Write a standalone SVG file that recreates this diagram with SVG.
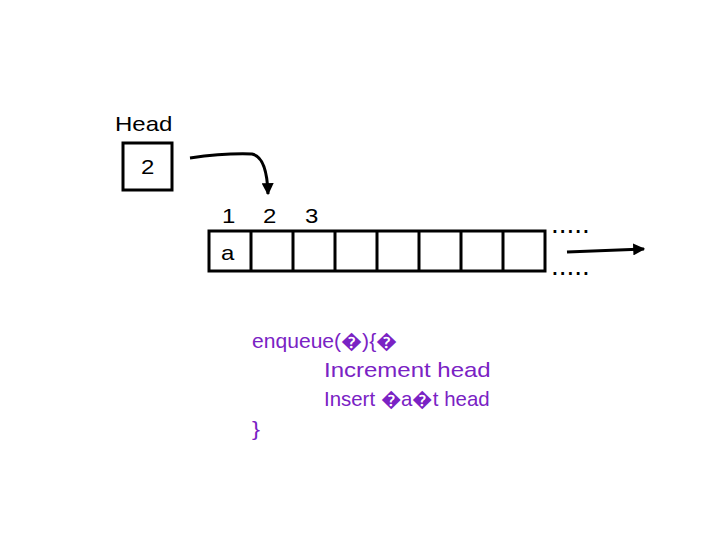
<svg xmlns="http://www.w3.org/2000/svg" width="720" height="540" viewBox="0 0 720 540">
<style>
text{font-family:"Liberation Sans",Arial,sans-serif;font-size:20px;fill:#000}
.code{fill:#7a22c4}
.box{fill:none;stroke:#000;stroke-width:3}
.dots{font-size:28px}
</style>
<defs>
<marker id="ah" viewBox="0 0 10 10" refX="9" refY="5" markerWidth="4" markerHeight="4" orient="auto" markerUnits="strokeWidth">
<path d="M0,0 L10,5 L0,10 Z" fill="#000"/>
</marker>
</defs>
<rect width="720" height="540" fill="#fff"/>
<g id="head">
<text transform="translate(115 131) scale(1.2 1)">Head</text>
<rect class="box" x="123" y="143" width="49" height="47"/>
<text transform="translate(141 174) scale(1.2 1)">2</text>
</g>
<g id="array">
<rect class="box" x="209" y="231" width="336" height="40"/>
<path class="box" d="M251,231V271M293,231V271M335,231V271M377,231V271M419,231V271M461,231V271M503,231V271"/>
<text transform="translate(222 223) scale(1.2 1)">1</text>
<text transform="translate(263 223) scale(1.2 1)">2</text>
<text transform="translate(305 223) scale(1.2 1)">3</text>
<text transform="translate(221 260) scale(1.2 1)">a</text>
<text class="dots" x="551" y="233">.....</text>
<text class="dots" x="551" y="275">.....</text>
</g>
<g id="connectors" fill="none" stroke="#000">
<path d="M190,158 Q225,153 252,154 Q267,157 268,194" stroke-width="3" marker-end="url(#ah)"/>
<path d="M567,252 L644,249" stroke-width="3" marker-end="url(#ah)"/>
</g>
<g id="code">
<text class="code" transform="translate(252 348) scale(1.2 1)" textLength="121" lengthAdjust="spacingAndGlyphs">enqueue(�){�</text>
<text class="code" transform="translate(324 377) scale(1.2 1)">Increment head</text>
<text class="code" transform="translate(324 406) scale(1.2 1)" textLength="138" lengthAdjust="spacingAndGlyphs">Insert �a�t head</text>
<text class="code" transform="translate(252 436) scale(1.2 1)">}</text>
</g>
</svg>
